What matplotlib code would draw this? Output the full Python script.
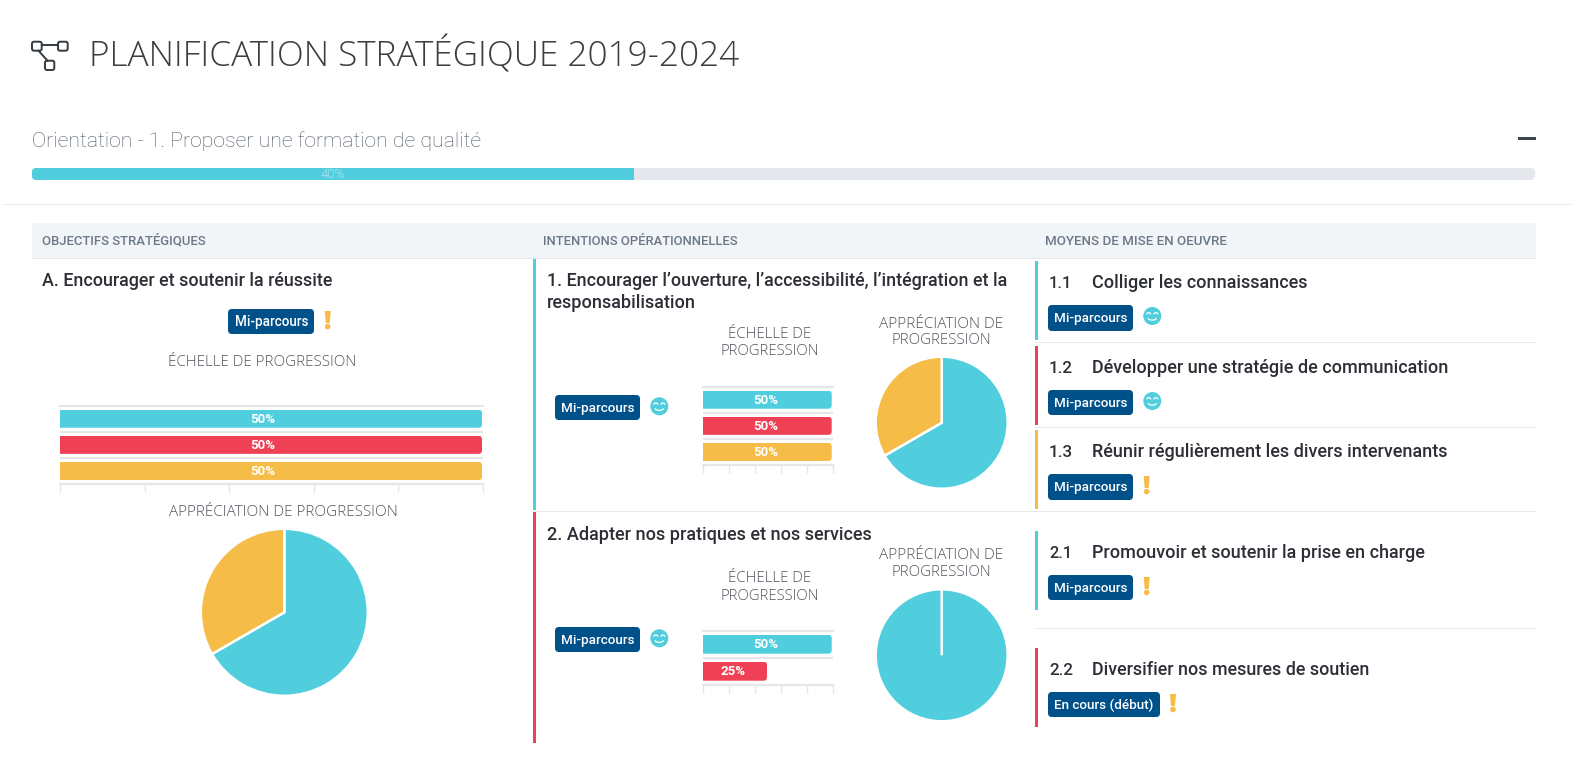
import matplotlib
matplotlib.use("Agg")
import matplotlib.pyplot as plt
from matplotlib.patches import FancyBboxPatch, Rectangle, Circle, Polygon, Arc
from matplotlib.transforms import IdentityTransform

W, H = 1574, 780
CYAN, RED, YELLOW, NAVY = "#50cedd", "#ef4056", "#f5bc47", "#00508a"
GRID = "#e6e6e6"
DARK = "#2d2f36"

# ---- data ----
overall_progress = 40
scale_a = [50, 50, 50]
scale_1 = [50, 50, 50]
scale_2 = [50, 25]
scale_colors = [CYAN, RED, YELLOW]
appreciation_a = [2, 1]
appreciation_1 = [2, 1]
appreciation_2 = [3, 0]
appreciation_colors = [CYAN, YELLOW]
scale_ticks = [0, 10, 20, 30, 40, 50]

fig = plt.figure(figsize=(W / 100, H / 100), dpi=100, facecolor="white")
bg = fig.add_axes([0, 0, 1, 1])
bg.set_xlim(0, W)
bg.set_ylim(H, 0)
bg.axis("off")
rend = fig.canvas.get_renderer()


def txt(x0, x1, y, s, family="Roboto", weight="normal", color=DARK, size=12):
    t = bg.text(x0, y, s, family=family, fontweight=weight, color=color, fontsize=size,
                ha="left", va="baseline")
    w = t.get_window_extent(rend).width
    t.set_fontsize(size * (x1 - x0) / w)
    return t


def rect(x0, y0, x1, y1, c):
    bg.add_patch(Rectangle((x0, y0), x1 - x0, y1 - y0, fc=c, ec="none"))


def rrect(x0, y0, x1, y1, r, c, **kw):
    p = FancyBboxPatch((x0 + r, y0 + r), x1 - x0 - 2 * r, y1 - y0 - 2 * r,
                       boxstyle=f"round,pad={r},rounding_size={r}", fc=c, ec=kw.get("ec", "none"),
                       lw=kw.get("lw", 0))
    bg.add_patch(p)
    return p


def badge(x0, y0, x1, y1, s, tx0, tx1):
    rrect(x0, y0, x1, y1, 4, NAVY)
    txt(tx0, tx1, y0 + 17.3, s, weight="medium", color="white")


def smile(cx, cy):
    bg.add_patch(Circle((cx, cy), 9, fc=CYAN, ec="none"))
    for dx in (-3.6, 3.6):
        bg.add_patch(Arc((cx + dx, cy - 1.6), 4, 3.4, theta1=180, theta2=360, ec="white", lw=0.9))
    bg.add_patch(Arc((cx, cy + 0.6), 10, 7, theta1=20, theta2=160, ec="white", lw=0.9))


def excl(cx, y0):
    bg.add_patch(Polygon([(cx - 3, y0), (cx + 3, y0), (cx + 2, y0 + 12), (cx - 2, y0 + 12)],
                         closed=True, fc=YELLOW, ec="none"))
    bg.add_patch(Circle((cx, y0 + 15.5), 2.8, fc=YELLOW, ec="none"))


def axes_px(x0, y0, x1, y1):
    return fig.add_axes([x0 / W, 1 - y1 / H, (x1 - x0) / W, (y1 - y0) / H])


def bars(x0, y0, x1, y1, values, bar_h, fs):
    ax = axes_px(x0, y0, x1, y1)
    n = len(values)
    ax.patch.set_alpha(0)
    ax.set_xlim(scale_ticks[0], scale_ticks[-1])
    ax.set_ylim(n - 0.5, -0.5)
    band = (y1 - y0) / n
    ax.set_xticks(scale_ticks)
    ax.set_xticklabels([])
    ax.set_yticks([i - 0.5 for i in range(1, n)])
    ax.set_yticklabels([])
    ax.tick_params(axis="y", length=0)
    ax.tick_params(axis="x", length=6, width=1, color=GRID)
    ax.grid(axis="y", color=GRID, lw=1.5)
    ax.set_axisbelow(True)
    for sp in ("left", "right"):
        ax.spines[sp].set_visible(False)
    for sp in ("top", "bottom"):
        ax.spines[sp].set_color(GRID)
        ax.spines[sp].set_linewidth(1.5)
    rects = ax.barh(range(n), values, height=bar_h / band, color=scale_colors[:n], zorder=3)
    for i, (r, v) in enumerate(zip(rects, values)):
        bx0, by0 = ax.transData.transform((0, i + bar_h / band / 2))
        bx1, by1 = ax.transData.transform((v, i - bar_h / band / 2))
        bx1 -= 1
        clip = FancyBboxPatch((bx0 - 20, by0), bx1 - bx0 + 20, by1 - by0,
                              boxstyle="round,pad=0,rounding_size=3.5",
                              transform=IdentityTransform())
        r.set_clip_path(clip)
        ax.text(v / 2 - 1, i + 0.02, f"{v}%", ha="center", va="center", color="white",
                family="Roboto", fontweight="bold", fontsize=fs, zorder=4)
    return ax


def pie(cx, cy, r, values):
    ax = axes_px(cx - r - 1, cy - r - 1, cx + r + 1, cy + r + 1)
    ax.pie(values, colors=appreciation_colors, startangle=90, counterclock=False, radius=1,
           wedgeprops=dict(edgecolor="white", linewidth=1.8))
    ax.set_xlim(-1, 1)
    ax.set_ylim(-1, 1)
    return ax


# ---- page header ----
for (a, b, c, d) in [(32, 41.7, 41.7, 50.7), (58, 41.7, 67.7, 50.7), (45, 60.7, 54.3, 70)]:
    rrect(a, b, c, d, 2, "white", ec="#333a40", lw=1.4)
bg.plot([41.7, 58], [45, 45], color="#333a40", lw=1.4)
bg.plot([38.5, 47.5], [50.7, 60.7], color="#333a40", lw=1.4)
txt(89, 741, 67, "PLANIFICATION STRATÉGIQUE 2019-2024", family="Open Sans", weight="light", color="#3a3d42", size=24)
txt(32, 483, 147, "Orientation - 1. Proposer une formation de qualité", weight="light", color="#4e5965", size=15)
rect(1518, 137.3, 1536, 140.3, "#3b4650")

# overall progress bar
track = axes_px(32, 168, 1536, 180)
track.set_xlim(0, 100)
track.set_ylim(0, 1)
track.axis("off")
track.add_patch(FancyBboxPatch((0, 0), 100, 1, boxstyle="round,pad=0,rounding_size=0.3",
                               mutation_aspect=3.3, fc="#e4e8ec", ec="none", clip_on=True))
prog = track.barh([0.5], [overall_progress], height=1, color=CYAN)[0]
pbx0, pby0 = track.transAxes.transform((0, 0))
pbx1, pby1 = track.transAxes.transform((1, 1))
prog.set_clip_path(FancyBboxPatch((pbx0, pby0), pbx1 - pbx0, pby1 - pby0,
                                  boxstyle="round,pad=0,rounding_size=4", transform=IdentityTransform()))
track.text(overall_progress / 2, 0.42, f"{overall_progress}%", ha="center", va="center", color="white",
           family="Roboto", fontweight="light", fontsize=9.5)

rect(3, 203.6, 1571, 204.8, "#e6e9eb")
rect(32, 222.7, 1536, 257.5, "#f1f5f8")
rect(32, 257.5, 1536, 258.5, "#e4e8ea")
HC = "#6c7885"
txt(41.7, 205.7, 245, "OBJECTIFS STRATÉGIQUES", weight="medium", color=HC)
txt(543.4, 739, 245, "INTENTIONS OPÉRATIONNELLES", weight="medium", color=HC)
txt(1045, 1227, 245, "MOYENS DE MISE EN OEUVRE", weight="medium", color=HC)

# ---- column A ----
LBL = dict(family="Open Sans", weight="light", color="#50555c")
txt(42, 333, 286, "A. Encourager et soutenir la réussite", weight="medium")
badge(228, 309, 314, 334, "Mi-parcours", 234.7, 308)
excl(327.7, 311)
txt(168, 354, 366, "ÉCHELLE DE PROGRESSION", **LBL)
bars(60, 405.7, 483, 484, scale_a, 18, 9.5)
txt(169, 396, 516, "APPRÉCIATION DE PROGRESSION", **LBL)
pie(284.3, 612.3, 82.5, appreciation_a)

# ---- column B ----
rect(533, 258.5, 536, 510, CYAN)
rect(533, 512, 536, 743, RED)
rect(536, 510.5, 1536, 511.5, "#e8e8e8")
txt(546.7, 1007, 286, "1. Encourager l’ouverture, l’accessibilité, l’intégration et la", weight="medium")
txt(546.7, 695, 308, "responsabilisation", weight="medium")
badge(555, 395, 640, 420, "Mi-parcours", 561, 634)
smile(659.3, 406.3)
txt(728, 810.7, 338, "ÉCHELLE DE", **LBL)
txt(720, 818, 355, "PROGRESSION", **LBL)
bars(703.3, 386.7, 832.7, 465, scale_1, 18, 9.5)
txt(879, 1002, 327.7, "APPRÉCIATION DE", **LBL)
txt(891.7, 990, 344.5, "PROGRESSION", **LBL)
pie(941.7, 422.7, 65, appreciation_1)

txt(546.7, 870, 540, "2. Adapter nos pratiques et nos services", weight="medium")
badge(555, 627, 640, 652, "Mi-parcours", 561, 634)
smile(659.3, 638.3)
txt(728, 810.7, 582, "ÉCHELLE DE", **LBL)
txt(720, 818, 600, "PROGRESSION", **LBL)
bars(703.3, 630.7, 832.7, 684.7, scale_2, 19, 9.5)
txt(879, 1002, 559, "APPRÉCIATION DE", **LBL)
txt(891.7, 990, 576, "PROGRESSION", **LBL)
pie(941.7, 655.3, 65, appreciation_2)

# ---- column C ----
rect(1035, 261, 1038, 340, CYAN)
rect(1035, 346, 1038, 425, RED)
rect(1035, 430, 1038, 509, YELLOW)
rect(1035, 531, 1038, 610, CYAN)
rect(1035, 648, 1038, 727, RED)
for y in (342.7, 427.3, 628.8):
    rect(1035, y - 0.5, 1536, y + 0.5, "#e8e8e8")

items = [("1.1", "Colliger les connaissances", 288, 1072, 1306),
         ("1.2", "Développer une stratégie de communication", 373, 1073, 1446),
         ("1.3", "Réunir régulièrement les divers intervenants", 457, 1073, 1445),
         ("2.1", "Promouvoir et soutenir la prise en charge", 558, 1072, 1422),
         ("2.2", "Diversifier nos mesures de soutien", 675, 1073, 1369)]
for num, lab, base, nx1, tx1 in items:
    txt(1049, nx1, base, num, weight="medium")
    txt(1091.7, tx1, base, lab, weight="medium")

badge(1048, 305, 1133, 331, "Mi-parcours", 1054, 1127)
smile(1152.3, 316)
badge(1048, 390, 1133, 415, "Mi-parcours", 1054, 1127)
smile(1152.3, 401)
badge(1048, 474, 1133, 500, "Mi-parcours", 1054, 1127)
excl(1146.7, 476)
badge(1048, 575, 1133, 600, "Mi-parcours", 1054, 1127)
excl(1146.7, 577)
badge(1048, 692, 1160, 717, "En cours (début)", 1054, 1153.5)
excl(1173, 694)

fig.savefig("out.png", dpi=100, facecolor="white")
